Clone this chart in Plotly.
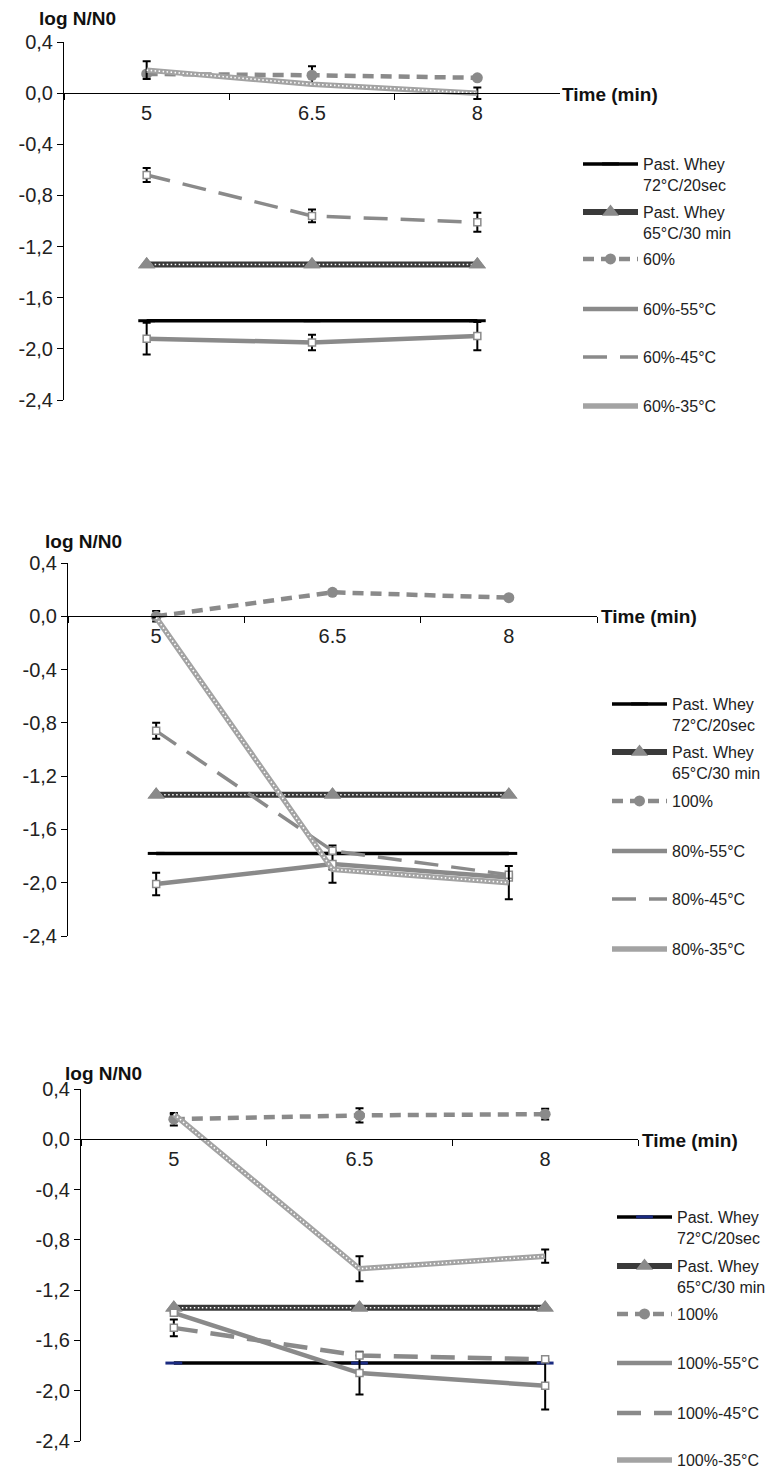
import plotly.graph_objects as go

# ---------------- data ----------------
time_labels = ["5", "6.5", "8"]
y_tickvals = [0.4, 0.0, -0.4, -0.8, -1.2, -1.6, -2.0, -2.4]
y_ticktext = ["0,4", "0,0", "-0,4", "-0,8", "-1,2", "-1,6", "-2,0", "-2,4"]

past72_name = "Past. Whey<br>72°C/20sec"
past65_name = "Past. Whey<br>65°C/30 min"

# Panel 1 (60 %)
p1_names = ["60%", "60%-55°C", "60%-45°C", "60%-35°C"]
p1_past72 = [-1.78, -1.78, -1.78]
p1_past65 = [-1.34, -1.34, -1.34]
p1_conc = [0.15, 0.14, 0.12]
p1_conc_err = [None, 0.07, None]
p1_t55 = [-1.92, -1.95, -1.90]
p1_t55_err = [0.125, 0.06, 0.11]
p1_t45 = [-0.64, -0.96, -1.01]
p1_t45_err = [0.055, 0.05, 0.075]
p1_t35 = [0.18, 0.07, 0.0]
p1_t35_err = [0.07, None, 0.045]

# Panel 2 (80 %)
p2_names = ["100%", "80%-55°C", "80%-45°C", "80%-35°C"]
p2_past72 = [-1.78, -1.78, -1.78]
p2_past65 = [-1.34, -1.34, -1.34]
p2_conc = [0.0, 0.18, 0.14]
p2_conc_err = [0.04, None, None]
p2_t55 = [-2.01, -1.86, -1.96]
p2_t55_err = [0.085, 0.14, None]
p2_t45 = [-0.86, -1.76, -1.94]
p2_t45_err = [0.06, None, None]
p2_t35 = [-0.01, -1.90, -2.0]
p2_t35_err = [None, None, 0.125]

# Panel 3 (100 %)
p3_names = ["100%", "100%-55°C", "100%-45°C", "100%-35°C"]
p3_past72 = [-1.78, -1.78, -1.78]
p3_past65 = [-1.34, -1.34, -1.34]
p3_conc = [0.16, 0.19, 0.20]
p3_conc_err = [0.05, 0.056, 0.043]
p3_t55 = [-1.38, -1.86, -1.96]
p3_t55_err = [None, 0.17, 0.19]
p3_t45 = [-1.50, -1.72, -1.75]
p3_t45_err = [0.067, None, None]
p3_t35 = [0.20, -1.03, -0.93]
p3_t35_err = [None, 0.10, 0.053]

# ---------------- styling / layout helpers ----------------
W, H = 771, 1469
FONT = "Liberation Sans, Arial, sans-serif"
GRAY = "#8a8a8a"
LGRAY = "#a3a3a3"
DARK = "#3a3a3a"


def px(x):
    return x / W


def py(y):
    return 1 - y / H


panels = [
    dict(data=(p1_past72, p1_past65, p1_conc, p1_conc_err, p1_t55, p1_t55_err,
               p1_t45, p1_t45_err, p1_t35, p1_t35_err), names=p1_names,
         xl=64, xr=560, yt=42, yb=400, title=(37, 18), time=(560, 94),
         leg_x=578, leg_y=[163, 211, 258, 308, 356, 405], past_marker="black"),
    dict(data=(p2_past72, p2_past65, p2_conc, p2_conc_err, p2_t55, p2_t55_err,
               p2_t45, p2_t45_err, p2_t35, p2_t35_err), names=p2_names,
         xl=68, xr=597, yt=563, yb=936, title=(43, 542), time=(599, 616),
         leg_x=607, leg_y=[703, 751, 800, 850, 898, 948], past_marker="black"),
    dict(data=(p3_past72, p3_past65, p3_conc, p3_conc_err, p3_t55, p3_t55_err,
               p3_t45, p3_t45_err, p3_t35, p3_t35_err), names=p3_names,
         xl=81, xr=638, yt=1089, yb=1441, title=(63, 1073), time=(640, 1140),
         leg_x=612, leg_y=[1216, 1265, 1313, 1362, 1412, 1459], past_marker="#1a2a80"),
]

fig = go.Figure()
annotations = []
layout_extra = {}


def err(arr):
    return dict(type="data", array=arr, visible=True, color="black",
                thickness=2, width=4)


leg_counter = [0]


def new_legend(x, y_center):
    leg_counter[0] += 1
    name = "legend" if leg_counter[0] == 1 else f"legend{leg_counter[0]}"
    layout_extra[name] = dict(
        x=px(x), y=py(y_center - 16), xanchor="left", yanchor="top",
        xref="paper", yref="paper", bgcolor="rgba(0,0,0,0)", borderwidth=0,
        font=dict(family=FONT, size=16, color="#222"), valign="top",
        itemwidth=55,
    )
    return name


for i, p in enumerate(panels, start=1):
    xa = "x" if i == 1 else f"x{i}"
    ya = "y" if i == 1 else f"y{i}"
    (past72, past65, conc, conc_err, t55, t55_err,
     t45, t45_err, t35, t35_err) = p["data"]
    n_conc, n55, n45, n35 = p["names"]
    common = dict(x=time_labels, xaxis=xa, yaxis=ya, cliponaxis=False)
    lgs = [new_legend(p["leg_x"], yc) for yc in p["leg_y"]]

    # Past. Whey 72°C/20sec
    fig.add_trace(go.Scatter(y=past72, name=past72_name, mode="lines+markers",
                             line=dict(color="black", width=3.5),
                             marker=dict(symbol="line-ew", size=12,
                                         line=dict(color=p["past_marker"], width=3)),
                             legend=lgs[0], **common))
    # Past. Whey 65°C/30 min (textured dark line)
    fig.add_trace(go.Scatter(y=past65, name=past65_name, mode="lines+markers",
                             line=dict(color=DARK, width=6),
                             marker=dict(symbol="triangle-up", size=15, color=GRAY),
                             legend=lgs[1], **common))
    fig.add_trace(go.Scatter(y=past65, mode="lines", showlegend=False, hoverinfo="skip",
                             line=dict(color="white", width=1.6, dash="1.5px,2.5px"),
                             **common))
    fig.add_trace(go.Scatter(y=past65, mode="markers", showlegend=False, hoverinfo="skip",
                             marker=dict(symbol="triangle-up", size=15, color=GRAY),
                             **common))
    # concentration only
    fig.add_trace(go.Scatter(y=conc, name=n_conc, mode="lines+markers",
                             line=dict(color=GRAY, width=4.5, dash="11px,7px"),
                             marker=dict(symbol="circle", size=11, color=GRAY),
                             error_y=err(conc_err), legend=lgs[2], **common))
    # 55 °C
    fig.add_trace(go.Scatter(y=t55, name=n55, mode="lines",
                             line=dict(color=GRAY, width=4.5),
                             error_y=err(t55_err), legend=lgs[3], **common))
    fig.add_trace(go.Scatter(y=t55, mode="markers", showlegend=False, hoverinfo="skip",
                             marker=dict(symbol="square", size=7, color="white",
                                         line=dict(color=GRAY, width=1.5)), **common))
    # 45 °C
    fig.add_trace(go.Scatter(y=t45, name=n45, mode="lines",
                             line=dict(color=GRAY, width=4.5 if i == 3 else 3.5,
                                       dash="24px,13px"),
                             error_y=err(t45_err), legend=lgs[4], **common))
    fig.add_trace(go.Scatter(y=t45, mode="markers", showlegend=False, hoverinfo="skip",
                             marker=dict(symbol="square", size=7, color="white",
                                         line=dict(color=GRAY, width=1.5)), **common))
    # 35 °C (textured light line)
    fig.add_trace(go.Scatter(y=t35, name=n35, mode="lines",
                             line=dict(color=LGRAY, width=5.5),
                             error_y=err(t35_err), legend=lgs[5], **common))
    fig.add_trace(go.Scatter(y=t35, mode="lines", showlegend=False, hoverinfo="skip",
                             line=dict(color="white", width=1.6, dash="1.5px,2.5px"),
                             **common))

    # axes
    zero_y = p["yt"] + (p["yb"] - p["yt"]) * 0.4 / 2.8
    layout_extra["xaxis" if i == 1 else f"xaxis{i}"] = dict(
        domain=[px(p["xl"]), px(p["xr"])], anchor="free", position=py(zero_y),
        type="category", range=[-0.5, 2.5], tickson="boundaries",
        ticks="outside", ticklen=6, tickcolor="black", showline=True,
        linecolor="black", linewidth=1, showgrid=False, zeroline=False,
        tickfont=dict(family=FONT, size=20, color="#222"), ticklabelstandoff=2,
    )
    layout_extra["yaxis" if i == 1 else f"yaxis{i}"] = dict(
        domain=[py(p["yb"]), py(p["yt"])], anchor=xa, range=[-2.4, 0.4],
        tickvals=y_tickvals, ticktext=y_ticktext, ticks="outside", ticklen=6,
        tickcolor="black", showline=True, linecolor="black", linewidth=1,
        showgrid=False, zeroline=False,
        tickfont=dict(family=FONT, size=20, color="#222"),
    )
    annotations.append(dict(text="<b>log N/N0</b>", x=px(p["title"][0]), y=py(p["title"][1]),
                            xref="paper", yref="paper", xanchor="left", yanchor="middle",
                            showarrow=False, font=dict(family=FONT, size=19, color="#111")))
    annotations.append(dict(text="<b>Time (min)</b>", x=px(p["time"][0]), y=py(p["time"][1]),
                            xref="paper", yref="paper", xanchor="left", yanchor="middle",
                            showarrow=False, font=dict(family=FONT, size=19, color="#111")))

fig.update_layout(
    width=W, height=H, margin=dict(l=0, r=0, t=0, b=0, autoexpand=False),
    paper_bgcolor="white", plot_bgcolor="white",
    annotations=annotations, **layout_extra,
)

# remove the default page margin so the figure sits at the window's top-left corner
fig.write_html("out.html", config={"displayModeBar": False},
               post_script="document.body.style.margin='0';")
